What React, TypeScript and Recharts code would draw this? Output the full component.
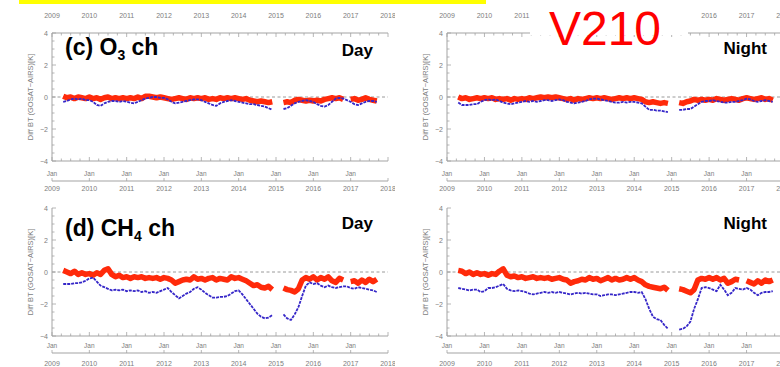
import React from 'react';
import { ComposedChart, Line, XAxis, YAxis, ReferenceLine } from 'recharts';

// sample times (decimal year)
const years = [
  2009.3, 2009.4, 2009.5, 2009.6, 2009.7, 2009.8, 2009.9,
  2010.0, 2010.1, 2010.2, 2010.3, 2010.4, 2010.5, 2010.6, 2010.7, 2010.8, 2010.9,
  2011.0, 2011.1, 2011.2, 2011.3, 2011.4, 2011.5, 2011.6, 2011.7, 2011.8, 2011.9,
  2012.0, 2012.1, 2012.2, 2012.3, 2012.4, 2012.5, 2012.6, 2012.7, 2012.8, 2012.9,
  2013.0, 2013.1, 2013.2, 2013.3, 2013.4, 2013.5, 2013.6, 2013.7, 2013.8, 2013.9,
  2014.0, 2014.1, 2014.2, 2014.3, 2014.4, 2014.5, 2014.6, 2014.7, 2014.8, 2014.9,
  2015.0, 2015.1, 2015.2, 2015.3, 2015.4, 2015.5, 2015.6, 2015.7, 2015.8, 2015.9,
  2016.0, 2016.1, 2016.2, 2016.3, 2016.4, 2016.5, 2016.6, 2016.7, 2016.8, 2016.9,
  2017.0, 2017.1, 2017.2, 2017.3, 2017.4, 2017.5, 2017.6, 2017.7,
];

const yearTicks = [2009, 2010, 2011, 2012, 2013, 2014, 2015, 2016, 2017, 2018];
const quarterTicks = yearTicks.flatMap((y) => (y < 2018 ? [y, y + 0.25, y + 0.5, y + 0.75] : [y]));
const kTicks = [-4, -3.5, -3, -2.5, -2, -1.5, -1, -0.5, 0, 0.5, 1, 1.5, 2, 2.5, 3, 3.5, 4];
const kLabels = [-4, -2, 0, 2, 4];
// top year labels hidden behind the "V210" stamp on the night panel
const stampedYears = [2012, 2013, 2014, 2015];

// (c) O3 ch, Day
const o3DayRed = [
  0.05, -0.05, 0.0, -0.1, 0.0, -0.05, -0.1,
  0.0, -0.1, -0.05, -0.15, -0.05, 0.0, -0.1, -0.05, -0.1, -0.05,
  -0.1, -0.05, -0.1, 0.0, -0.1, 0.05, 0.05, 0.0, -0.05, 0.0,
  -0.05, -0.1, -0.15, -0.1, -0.05, -0.1, -0.15, -0.05, -0.1, -0.05,
  -0.1, -0.05, -0.15, -0.1, -0.15, -0.05, -0.1, -0.05, -0.1, -0.05,
  -0.1, -0.15, -0.1, -0.2, -0.25, -0.3, -0.25, -0.3, -0.35, -0.3,
  null, null, -0.35, -0.3, -0.35, -0.2, -0.15, -0.2, -0.25, -0.2,
  -0.25, -0.2, -0.25, -0.15, -0.1, -0.05, -0.1, -0.05, -0.15, null,
  -0.15, -0.1, -0.2, -0.15, -0.05, -0.15, -0.2, -0.25,
];
const o3DayBlue = [
  -0.3, -0.25, -0.15, -0.1, -0.15, -0.1, -0.2,
  -0.2, -0.3, -0.5, -0.55, -0.4, -0.3, -0.25, -0.25, -0.3, -0.25,
  -0.3, -0.35, -0.4, -0.3, -0.2, -0.1, -0.05, 0.0, 0.0, -0.05,
  -0.05, -0.15, -0.3, -0.4, -0.35, -0.3, -0.25, -0.2, -0.15, -0.15,
  -0.2, -0.3, -0.4, -0.5, -0.55, -0.4, -0.3, -0.25, -0.2, -0.25,
  -0.3, -0.35, -0.4, -0.45, -0.45, -0.5, -0.55, -0.6, -0.7, -0.8,
  null, null, -0.75, -0.7, -0.55, -0.4, -0.3, -0.25, -0.2, -0.25,
  -0.3, -0.45, -0.55, -0.6, -0.5, -0.3, -0.1, -0.05, -0.1, -0.2,
  -0.3, -0.45, -0.5, -0.4, -0.3, -0.25, -0.25, -0.3,
];

// (c) O3 ch, Night
const o3NightRed = [
  0.0, -0.1, -0.05, -0.15, -0.1, -0.05, -0.1,
  -0.05, -0.1, -0.05, -0.15, -0.1, -0.15, -0.1, -0.2, -0.1, -0.15,
  -0.1, -0.15, -0.05, -0.1, -0.05, 0.0, -0.05, 0.0, -0.05, 0.0,
  -0.05, -0.1, -0.15, -0.1, -0.2, -0.1, -0.15, -0.1, -0.05, -0.1,
  -0.05, -0.1, -0.05, -0.1, -0.15, -0.1, -0.05, -0.1, -0.05, -0.1,
  -0.05, -0.1, -0.15, -0.3, -0.35, -0.3, -0.35, -0.4, -0.35, -0.4,
  null, null, -0.35, -0.4, -0.3, -0.25, -0.15, -0.2, -0.15, -0.2,
  -0.15, -0.2, -0.1, -0.15, -0.2, -0.15, -0.1, -0.15, -0.2, -0.1,
  -0.05, -0.1, -0.15, -0.1, -0.05, -0.15, -0.1, -0.2,
];
const o3NightBlue = [
  -0.35, -0.5, -0.5, -0.5, -0.45, -0.45, -0.3,
  -0.2, -0.15, -0.2, -0.15, -0.25, -0.35, -0.4, -0.45, -0.4, -0.35,
  -0.3, -0.25, -0.3, -0.25, -0.3, -0.25, -0.2, -0.2, -0.25, -0.2,
  -0.15, -0.2, -0.3, -0.35, -0.4, -0.35, -0.3, -0.25, -0.15, -0.1,
  -0.1, -0.15, -0.2, -0.25, -0.3, -0.35, -0.35, -0.3, -0.35, -0.3,
  -0.3, -0.35, -0.4, -0.6, -0.8, -0.8, -0.85, -0.85, -0.9, -0.95,
  null, null, -0.8, -0.8, -0.75, -0.75, -0.6, -0.45, -0.3, -0.25,
  -0.25, -0.2, -0.25, -0.3, -0.35, -0.35, -0.3, -0.3, -0.25, -0.2,
  -0.1, -0.15, -0.25, -0.3, -0.25, -0.2, -0.25, -0.3,
];

// (d) CH4 ch, Day
const ch4DayRed = [
  0.1, 0.0, -0.1, 0.05, -0.15, -0.05, -0.15,
  -0.1, -0.2, -0.05, -0.15, 0.1, 0.2, -0.15, -0.3, -0.2, -0.35,
  -0.3, -0.4, -0.3, -0.35, -0.3, -0.4, -0.35, -0.4, -0.35, -0.45,
  -0.35, -0.4, -0.5, -0.7, -0.6, -0.5, -0.45, -0.5, -0.3, -0.45,
  -0.4, -0.5, -0.4, -0.35, -0.5, -0.4, -0.45, -0.5, -0.3, -0.4,
  -0.35, -0.45, -0.55, -0.7, -0.85, -0.8, -0.95, -1.0, -0.9, -1.1,
  null, null, -1.0, -1.1, -1.15, -1.25, -1.05, -0.5, -0.35, -0.45,
  -0.3, -0.5, -0.35, -0.45, -0.3, -0.55, -0.65, -0.4, -0.5, null,
  -0.6, -0.55, -0.7, -0.5, -0.65, -0.45, -0.6, -0.45,
];
const ch4DayBlue = [
  -0.75, -0.75, -0.75, -0.7, -0.7, -0.65, -0.55,
  -0.4, -0.35, -0.6, -0.85, -0.95, -1.05, -1.15, -1.1, -1.15, -1.1,
  -1.2, -1.15, -1.2, -1.15, -1.25, -1.2, -1.3, -1.25, -1.3, -1.2,
  -1.1, -1.0, -1.25, -1.45, -1.65, -1.5, -1.35, -1.25, -1.05, -0.95,
  -1.1, -1.3, -1.45, -1.6, -1.6, -1.55, -1.55, -1.5, -1.35, -1.2,
  -1.15, -1.4, -1.7, -2.0, -2.3, -2.6, -2.8, -2.9, -2.85, -2.7,
  null, null, -2.65, -2.9, -3.0, -2.65, -2.2, -1.5, -0.85, -0.65,
  -0.75, -0.7, -0.85, -0.95, -0.85, -0.95, -1.0, -0.95, -0.9, -0.9,
  -1.0, -1.05, -0.95, -1.0, -1.05, -1.1, -1.15, -1.25,
];

// (d) CH4 ch, Night
const ch4NightRed = [
  0.1, 0.05, -0.1, 0.0, -0.15, -0.05, -0.15,
  -0.1, -0.2, -0.1, -0.15, 0.05, 0.2, -0.2, -0.3, -0.25, -0.35,
  -0.3, -0.4, -0.35, -0.3, -0.4, -0.35, -0.4, -0.35, -0.45, -0.4,
  -0.35, -0.45, -0.5, -0.7, -0.6, -0.55, -0.45, -0.5, -0.35, -0.45,
  -0.4, -0.55, -0.45, -0.35, -0.5, -0.4, -0.5, -0.45, -0.35, -0.45,
  -0.35, -0.5, -0.6, -0.8, -0.9, -0.95, -1.0, -1.05, -0.95, -1.15,
  null, null, -1.05, -1.1, -1.2, -1.3, -1.1, -0.5, -0.4, -0.45,
  -0.35, -0.45, -0.35, -0.5, -0.4, -0.7, -0.6, -0.45, -0.5, null,
  -0.55, -0.65, -0.75, -0.55, -0.7, -0.5, -0.6, -0.5,
];
const ch4NightBlue = [
  -1.0, -1.05, -1.1, -1.15, -1.1, -1.1, -1.25,
  -1.2, -1.0, -1.0, -0.95, -0.85, -0.75, -1.05, -1.15, -1.2, -1.15,
  -1.2, -1.25, -1.35, -1.4, -1.35, -1.3, -1.25, -1.3, -1.25, -1.3,
  -1.25, -1.3, -1.35, -1.4, -1.35, -1.3, -1.35, -1.3, -1.35, -1.4,
  -1.4, -1.5, -1.45, -1.4, -1.4, -1.45, -1.4, -1.35, -1.3, -1.25,
  -1.25, -1.3, -1.25, -1.7, -2.3, -2.8, -2.95, -3.0, -3.3, -3.55,
  null, null, -3.6, -3.55, -3.4, -3.1, -2.3, -1.7, -1.0, -0.95,
  -1.0, -1.1, -1.2, -0.8, -1.1, -1.45, -1.3, -1.0, -1.05, -1.1,
  -1.0, -1.1, -1.3, -1.45, -1.3, -1.25, -1.25, -1.2,
];

const FRAME = '#a3a3a3';
const LABEL = '#7d7d7d';
const FONT = '"Liberation Sans", Arial, sans-serif';
const RED = '#ff2a0a';
const BLUE = '#3526c8';

const isWhole = (v: number) => Math.abs(v - Math.round(v)) < 1e-6;

const BoxTopTick = (props: any) => {
  const { x, y, payload, showYears, skipYears } = props;
  const major = isWhole(payload.value);
  const showLabel = showYears && major && !skipYears.includes(payload.value);
  return (
    <g>
      <line x1={x} x2={x} y1={y} y2={y + (major ? 4 : 2.5)} stroke={FRAME} strokeWidth={0.8} />
      {showLabel && (
        <text x={x} y={y - 15.5} textAnchor="middle" fontSize={7} fill={LABEL} fontFamily={FONT}>
          {payload.value}
        </text>
      )}
    </g>
  );
};

const JanTick = (props: any) => {
  const { x, y, payload, labelOffset } = props;
  const major = isWhole(payload.value);
  return (
    <g>
      <line x1={x} x2={x} y1={y} y2={y - (major ? 4 : 2.5)} stroke={FRAME} strokeWidth={0.8} />
      {major && payload.value < 2018 && (
        <text x={x} y={y + labelOffset} textAnchor="middle" fontSize={6.5} fill={LABEL} fontFamily={FONT}>
          Jan
        </text>
      )}
    </g>
  );
};

const YearTick = (props: any) => {
  const { x, y, payload, labelOffset } = props;
  return (
    <g>
      <line x1={x} x2={x} y1={y} y2={y - 3} stroke={FRAME} strokeWidth={0.8} />
      <text x={x} y={y + labelOffset} textAnchor="middle" fontSize={7} fill={LABEL} fontFamily={FONT}>
        {payload.value}
      </text>
    </g>
  );
};

const LeftTick = (props: any) => {
  const { x, y, payload } = props;
  const v = payload.value;
  const major = kLabels.includes(v);
  return (
    <g>
      <line x1={x} x2={x + (major ? 4 : 2.5)} y1={y} y2={y} stroke={FRAME} strokeWidth={0.8} />
      {major && (
        <text x={x - 4} y={y + 2.5} textAnchor="end" fontSize={7} fill={LABEL} fontFamily={FONT}>
          {v < 0 ? `\u2212${-v}` : v}
        </text>
      )}
    </g>
  );
};

const RightTick = (props: any) => {
  const { x, y, payload } = props;
  const major = kLabels.includes(payload.value);
  return <line x1={x} x2={x - (major ? 4 : 2.5)} y1={y} y2={y} stroke={FRAME} strokeWidth={0.8} />;
};

type PanelProps = {
  left: number;
  top: number;
  width: number;
  height: number;
  red: (number | null)[];
  blue: (number | null)[];
  marginTop: number;
  marginRight: number;
  yWidth: number;
  boxHeight: number;
  topYears: boolean;
  skipYears?: number[];
  janHeight: number;
  janOffset: number;
  yearOffset: number;
  titleDx: number;
};

const Panel = (p: PanelProps) => {
  const data = years.map((t, i) => ({ t, red: p.red[i], blue: p.blue[i] }));
  return (
    <div style={{ position: 'absolute', left: p.left, top: p.top }}>
      <ComposedChart
        width={p.width}
        height={p.height}
        data={data}
        margin={{ top: p.marginTop, right: p.marginRight, bottom: 0, left: 0 }}
      >
        <XAxis
          xAxisId="box"
          orientation="top"
          type="number"
          dataKey="t"
          domain={[2009, 2018]}
          ticks={quarterTicks}
          interval={0}
          height={p.boxHeight}
          tickSize={0}
          tickMargin={0}
          stroke={FRAME}
          tick={<BoxTopTick showYears={p.topYears} skipYears={p.skipYears ?? []} />}
        />
        <XAxis
          xAxisId="jan"
          orientation="bottom"
          type="number"
          dataKey="t"
          domain={[2009, 2018]}
          ticks={quarterTicks}
          interval={0}
          height={p.janHeight}
          tickSize={0}
          tickMargin={0}
          stroke={FRAME}
          tick={<JanTick labelOffset={p.janOffset} />}
        />
        <XAxis
          xAxisId="yr"
          orientation="bottom"
          type="number"
          dataKey="t"
          domain={[2009, 2018]}
          ticks={yearTicks}
          interval={0}
          height={14}
          tickSize={0}
          tickMargin={0}
          stroke={FRAME}
          tick={<YearTick labelOffset={p.yearOffset} />}
        />
        <YAxis
          yAxisId="k"
          type="number"
          domain={[-4, 4]}
          ticks={kTicks}
          interval={0}
          width={p.yWidth}
          tickSize={0}
          tickMargin={0}
          stroke={FRAME}
          tick={<LeftTick />}
          label={{
            value: 'Diff BT (GOSAT\u2212AIRS)[K]',
            angle: -90,
            position: 'center',
            dx: p.titleDx,
            fontSize: 7.5,
            fill: LABEL,
            fontFamily: FONT,
          }}
        />
        <YAxis
          yAxisId="r"
          orientation="right"
          type="number"
          domain={[-4, 4]}
          ticks={kTicks}
          interval={0}
          width={0}
          tickSize={0}
          tickMargin={0}
          stroke={FRAME}
          tick={<RightTick />}
        />
        <ReferenceLine xAxisId="jan" yAxisId="k" y={0} stroke="#9a9a9a" strokeDasharray="3 2.5" />
        <Line
          xAxisId="jan"
          yAxisId="k"
          dataKey="red"
          stroke={RED}
          strokeWidth={5.5}
          strokeLinejoin="round"
          dot={false}
          isAnimationActive={false}
        />
        <Line
          xAxisId="jan"
          yAxisId="k"
          dataKey="blue"
          stroke={BLUE}
          strokeWidth={1.8}
          strokeDasharray="3 1"
          dot={false}
          isAnimationActive={false}
        />
      </ComposedChart>
    </div>
  );
};

const sides = {
  left: { left: 0, width: 395, yWidth: 52, marginRight: 7, titleDx: 4 },
  right: { left: 390, width: 400, yWidth: 57, marginRight: 6, titleDx: 6.5 },
};
const rows = {
  top: { top: 0, height: 195, marginTop: 0, boxHeight: 33, topYears: true, janHeight: 20, janOffset: 14.5, yearOffset: 9.5 },
  bottom: { top: 195, height: 172, marginTop: 13, boxHeight: 0, topYears: false, janHeight: 17, janOffset: 11.5, yearOffset: 12.5 },
};

const titleStyle = { fontFamily: FONT, fontWeight: 700, fill: '#000' } as const;

export default function App() {
  return (
    <div
      style={{
        position: 'fixed',
        left: 0,
        top: 0,
        width: 780,
        height: 367,
        background: '#fff',
        overflow: 'hidden',
        fontFamily: FONT,
      }}
    >
      <Panel {...sides.left} {...rows.top} red={o3DayRed} blue={o3DayBlue} />
      <Panel {...sides.right} {...rows.top} skipYears={stampedYears} red={o3NightRed} blue={o3NightBlue} />
      <Panel {...sides.left} {...rows.bottom} red={ch4DayRed} blue={ch4DayBlue} />
      <Panel {...sides.right} {...rows.bottom} red={ch4NightRed} blue={ch4NightBlue} />

      <svg width={780} height={367} style={{ position: 'absolute', left: 0, top: 0, pointerEvents: 'none' }}>
        <rect x={19} y={0} width={467} height={4} fill="#ffff00" />
        <rect x={530} y={4} width={158} height={31} fill="#fff" />
        <text x={605} y={45} textAnchor="middle" fontSize={48} fill="#ff0000" fontFamily={FONT}>
          V210
        </text>

        <text x={65} y={55} fontSize={23} {...titleStyle}>
          (c) O<tspan fontSize={14} dy={5}>3</tspan>
          <tspan dy={-5}> ch</tspan>
        </text>
        <text x={373} y={56} fontSize={17} textAnchor="end" {...titleStyle}>Day</text>
        <text x={767} y={54} fontSize={17} textAnchor="end" {...titleStyle}>Night</text>

        <text x={65} y={236} fontSize={23} {...titleStyle}>
          (d) CH<tspan fontSize={14} dy={5}>4</tspan>
          <tspan dy={-5}> ch</tspan>
        </text>
        <text x={373} y={229} fontSize={17} textAnchor="end" {...titleStyle}>Day</text>
        <text x={767} y={229} fontSize={17} textAnchor="end" {...titleStyle}>Night</text>
      </svg>
    </div>
  );
}
